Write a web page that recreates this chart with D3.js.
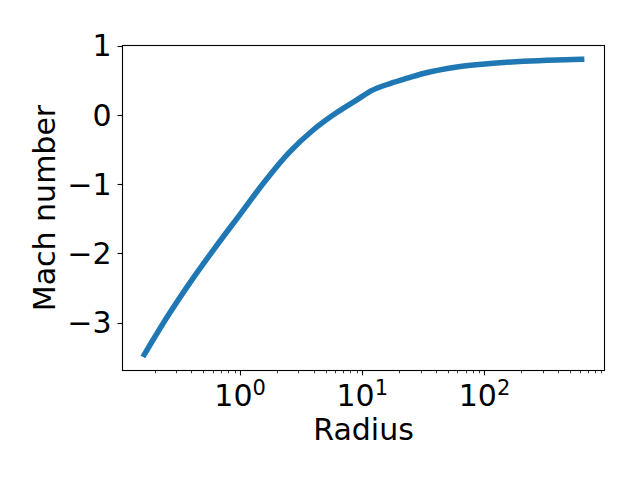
<!DOCTYPE html>
<html>
<head>
<meta charset="utf-8">
<script src="https://cdn.jsdelivr.net/npm/d3@7"></script>
<style>
  body { margin: 0; background: #fff; }
  text { font-family: "DejaVu Sans", sans-serif; fill: #000; }
</style>
</head>
<body>
<svg id="chart" width="640" height="480"></svg>
<script>
// values
const radius = [0.1644, 0.2512, 0.3981, 0.631, 1.0, 1.585, 2.512, 3.981, 6.31, 8.91,
                12.02, 16.87, 23.82, 31.62, 59.29, 111.2, 208.0, 390.8, 623.7]
const mach = [-3.46, -2.926, -2.396, -1.906, -1.436, -0.966, -0.546, -0.216, 0.044, 0.209,
              0.352, 0.451, 0.532, 0.596, 0.691, 0.740, 0.773, 0.792, 0.80]
const yTicks = [-3, -2, -1, 0, 1]
const xTicks = [1, 10, 100]
const xLabel = 'Radius'
const yLabel = 'Mach number'

const box = {left: 122.5, right: 604.5, top: 45.5, bottom: 370.5}

const x = d3.scaleLog().domain([0.109, 960]).range([box.left, box.right])
const y = d3.scaleLinear().domain([-3.69, 1.0]).range([box.bottom, box.top])

const svg = d3.select('#chart')

// data line
const line = d3.line()
    .x((d, i) => x(radius[i]))
    .y(d => y(d))
    .curve(d3.curveMonotoneX)

svg.append('path')
    .datum(mach)
    .attr('d', line)
    .attr('fill', 'none')
    .attr('stroke', '#1f77b4')
    .attr('stroke-width', 5.5)
    .attr('stroke-linecap', 'square')

// frame
svg.append('rect')
    .attr('x', box.left).attr('y', box.top)
    .attr('width', box.right - box.left)
    .attr('height', box.bottom - box.top)
    .attr('fill', 'none')
    .attr('stroke', '#000')
    .attr('stroke-width', 1.1)

// y axis
const gy = svg.append('g')
gy.selectAll('line')
    .data(yTicks)
    .join('line')
    .attr('x1', box.left - 4.9).attr('x2', box.left)
    .attr('y1', d => Math.round(y(d)) + 0.5).attr('y2', d => Math.round(y(d)) + 0.5)
    .attr('stroke', '#000').attr('stroke-width', 1.1)
gy.selectAll('text')
    .data(yTicks)
    .join('text')
    .attr('x', box.left - 11)
    .attr('y', d => y(d))
    .attr('dy', '0.36em')
    .attr('text-anchor', 'end')
    .attr('font-size', 30)
    .text(d => d < 0 ? '\u2212' + Math.abs(d) : d)

// x axis: major + minor log ticks
const minor = []
for (let e = -1; e <= 2; e++) {
  for (let m = 2; m <= 9; m++) {
    const v = m * Math.pow(10, e)
    if (v >= x.domain()[0] && v <= x.domain()[1]) minor.push(v)
  }
}
const gx = svg.append('g')
gx.selectAll('line.minor')
    .data(minor)
    .join('line')
    .attr('class', 'minor')
    .attr('x1', d => Math.round(x(d)) + 0.5).attr('x2', d => Math.round(x(d)) + 0.5)
    .attr('y1', box.bottom).attr('y2', box.bottom + 2.8)
    .attr('stroke', '#000').attr('stroke-width', 0.8)
gx.selectAll('line.major')
    .data(xTicks)
    .join('line')
    .attr('class', 'major')
    .attr('x1', d => Math.round(x(d)) + 0.5).attr('x2', d => Math.round(x(d)) + 0.5)
    .attr('y1', box.bottom).attr('y2', box.bottom + 4.9)
    .attr('stroke', '#000').attr('stroke-width', 1.1)
const xt = gx.selectAll('text')
    .data(xTicks)
    .join('text')
    .attr('x', d => x(d))
    .attr('y', 405.5)
    .attr('text-anchor', 'middle')
    .attr('font-size', 30)
xt.append('tspan').text('10')
xt.append('tspan')
    .attr('font-size', 21)
    .attr('dy', -10.5)
    .text(d => Math.round(Math.log10(d)))

// axis labels
svg.append('text')
    .attr('x', (box.left + box.right) / 2)
    .attr('y', 440)
    .attr('text-anchor', 'middle')
    .attr('font-size', 30)
    .text(xLabel)

svg.append('text')
    .attr('transform', `translate(55,${(box.top + box.bottom) / 2}) rotate(-90)`)
    .attr('text-anchor', 'middle')
    .attr('font-size', 30)
    .text(yLabel)
</script>
</body>
</html>
